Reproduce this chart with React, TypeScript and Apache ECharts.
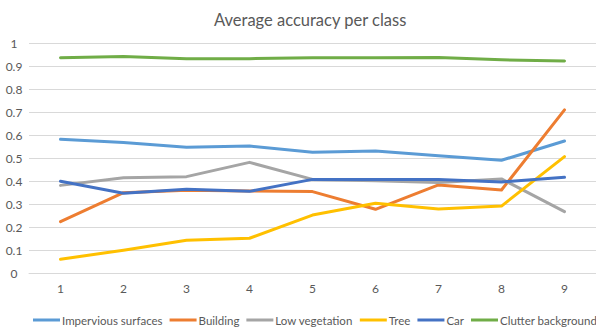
import React, { useEffect, useRef } from "react";
import * as echarts from "echarts";

const categories = ["1", "2", "3", "4", "5", "6", "7", "8", "9"];
const impervious = [0.581, 0.567, 0.547, 0.552, 0.525, 0.530, 0.510, 0.490, 0.574];
const building = [0.223, 0.349, 0.360, 0.357, 0.354, 0.277, 0.383, 0.361, 0.709];
const lowVegetation = [0.381, 0.414, 0.419, 0.481, 0.407, 0.401, 0.394, 0.409, 0.267];
const tree = [0.060, 0.099, 0.142, 0.151, 0.252, 0.303, 0.278, 0.291, 0.506];
const car = [0.399, 0.347, 0.364, 0.355, 0.407, 0.407, 0.407, 0.396, 0.416];
const clutter = [0.936, 0.941, 0.932, 0.932, 0.936, 0.936, 0.937, 0.927, 0.922];

const seriesNames = ["Impervious surfaces", "Building", "Low vegetation", "Tree", "Car", "Clutter background"];
const seriesData = [impervious, building, lowVegetation, tree, car, clutter];
const colors = ["#5B9BD5", "#ED7D31", "#A5A5A5", "#FFC000", "#4472C4", "#70AD47"];

const FONT = "Lato, 'Open Sans', sans-serif";

export default function App() {
  const ref = useRef<HTMLDivElement>(null);
  useEffect(() => {
    if (!ref.current) return;
    const chart = echarts.init(ref.current, null, { renderer: "svg" });
    chart.setOption({
      animation: false,
      backgroundColor: "#ffffff",
      color: colors,
      title: {
        text: "Average accuracy per class",
        left: 209,
        top: 6,
        textStyle: { fontFamily: FONT, fontSize: 16.5, fontWeight: "normal", color: "#595959" },
      },
      legend: {
        left: 33,
        top: 314,
        padding: 0,
        width: 580,
        icon: "rect",
        itemWidth: 27,
        itemHeight: 3,
        itemGap: 7,
        textStyle: { fontFamily: FONT, fontSize: 11.5, color: "#595959", padding: [0, 0, 0, -3] },
        data: seriesNames,
      },
      grid: { left: 29, top: 43, width: 573, height: 230, containLabel: false },
      xAxis: {
        type: "category",
        data: categories,
        boundaryGap: true,
        axisLine: { show: true, lineStyle: { color: "#D9D9D9", width: 1 } },
        axisTick: { show: false },
        axisLabel: { fontFamily: FONT, fontSize: 12, color: "#595959", margin: 9 },
      },
      yAxis: {
        type: "value",
        min: 0,
        max: 1,
        interval: 0.1,
        axisLine: { show: false },
        axisTick: { show: false },
        splitLine: { lineStyle: { color: "#D9D9D9", width: 1 } },
        axisLabel: {
          fontFamily: FONT,
          fontSize: 12,
          color: "#595959",
          align: "center",
          margin: 15,
          formatter: (v: number) => String(Math.round(v * 10) / 10),
        },
      },
      series: seriesNames.map((name, i) => ({
        name,
        type: "line",
        data: seriesData[i],
        symbol: "none",
        lineStyle: { width: 3, color: colors[i], cap: "round", join: "round" },
        itemStyle: { color: colors[i] },
      })),
    });
    return () => chart.dispose();
  }, []);
  return (
    <div
      ref={ref}
      style={{ position: "absolute", left: 0, top: 0, width: 596, height: 327 }}
    />
  );
}
